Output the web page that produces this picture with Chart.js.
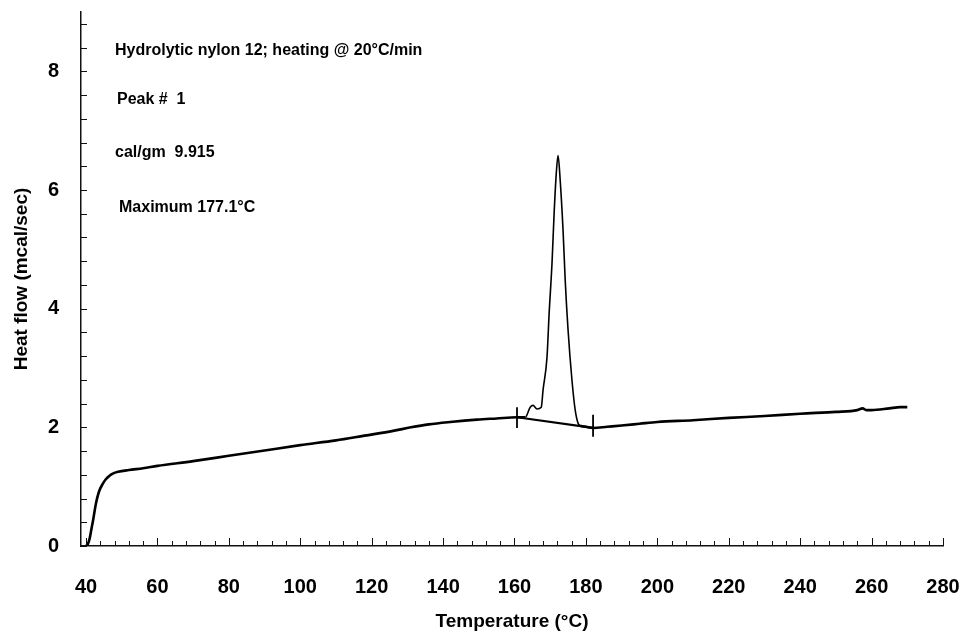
<!DOCTYPE html>
<html>
<head>
<meta charset="utf-8">
<script src="https://cdn.jsdelivr.net/npm/chart.js@4.4.0/dist/chart.umd.min.js"></script>
<style>
  body { margin: 0; background: #fff; }
  #wrap { width: 961px; height: 634px; }
</style>
</head>
<body>
<div id="wrap"><canvas id="dsc" width="961" height="634"></canvas></div>
<script>
// DSC trace
const temps = [40, 40.5, 41, 41.5, 42, 42.8, 43.6, 44.8, 45.5, 46.5, 47.5, 49, 52, 56, 60, 70, 80, 90, 100, 110, 118, 126, 131, 136, 142, 149.5, 155, 160.7,
  163, 164.4, 165.2, 166.3, 167.5, 168, 169.1, 169.7, 170.5, 171.1, 171.7, 172.2, 172.8, 173.6, 174.2, 175, 176.1, 177, 177.8, 178.4,
  180, 182, 186, 190, 195, 200, 210, 220, 230, 240, 250, 256, 257.5, 258.5, 260, 265, 268, 270];
const heatFlow = [0, 0.03, 0.12, 0.28, 0.44, 0.72, 0.91, 1.06, 1.12, 1.18, 1.22, 1.25, 1.28, 1.31, 1.35, 1.43, 1.52, 1.61, 1.70, 1.78, 1.86, 1.94, 2.00, 2.05, 2.09, 2.13, 2.15, 2.17,
  2.17, 2.34, 2.37, 2.31, 2.34, 2.63, 3.18, 3.92, 4.76, 5.61, 6.28, 6.58, 6.16, 5.32, 4.48, 3.64, 2.79, 2.29, 2.07, 2.03,
  2.01, 1.99, 2.01, 2.03, 2.06, 2.09, 2.12, 2.16, 2.19, 2.23, 2.26, 2.29, 2.32, 2.29, 2.29, 2.32, 2.34, 2.34];

// peak integration baseline and its end markers
const baseT = [160.7, 182];
const baseV = [2.17, 1.99];
const markLeftV = [1.99, 2.34];
const markRightV = [1.84, 2.21];

// axis ticks
const xTicks = [];
for (let t = 40; t <= 280; t += 4) xTicks.push(t);
const xLabels = [40, 60, 80, 100, 120, 140, 160, 180, 200, 220, 240, 260, 280];
const yTicks = [];
for (let k = 0; k <= 22; k++) yTicks.push(Math.round(k * 4) / 10);
const yLabels = [0, 2, 4, 6, 8];

const notes = ['Hydrolytic nylon 12; heating @ 20°C/min', 'Peak #  1', 'cal/gm  9.915', 'Maximum 177.1°C'];

const pts = (xs, ys) => xs.map((x, i) => ({ x: x, y: ys[i] }));
const peakFrom = 163, peakTo = 178.4;

// ticks pointing into the plot, like the original
const insideTicks = {
  id: 'insideTicks',
  afterDraw(chart) {
    const { ctx, scales: { x, y } } = chart;
    ctx.save();
    ctx.strokeStyle = '#111';
    ctx.lineWidth = 1;
    ctx.beginPath();
    x.ticks.forEach(t => {
      const px = Math.round(x.getPixelForValue(t.value)) + 0.5;
      const len = xLabels.includes(t.value) ? 8 : 5;
      ctx.moveTo(px, x.top);
      ctx.lineTo(px, x.top - len);
    });
    y.ticks.forEach(t => {
      const py = Math.round(y.getPixelForValue(t.value)) + 0.5;
      ctx.moveTo(y.right, py);
      ctx.lineTo(y.right + 6, py);
    });
    ctx.stroke();
    ctx.restore();
  }
};

const notesPlugin = {
  id: 'notes',
  afterDraw(chart) {
    const { ctx, chartArea } = chart;
    const offs = [[34, 39], [36, 88], [34, 141], [38, 196]];
    ctx.save();
    ctx.fillStyle = '#000';
    ctx.font = 'bold 16px "Liberation Sans", Arial, sans-serif';
    ctx.textBaseline = 'middle';
    notes.forEach((s, i) => ctx.fillText(s, chartArea.left + offs[i][0], chartArea.top + offs[i][1]));
    ctx.restore();
  }
};

const font = { family: '"Liberation Sans", Arial, sans-serif', weight: 'bold' };

new Chart(document.getElementById('dsc'), {
  type: 'line',
  data: {
    datasets: [
      {
        data: pts(temps, heatFlow),
        borderColor: '#000',
        borderWidth: 2.6,
        cubicInterpolationMode: 'monotone',
        pointRadius: 0,
        segment: {
          borderWidth: c => (c.p0.parsed.x >= peakFrom && c.p1.parsed.x <= peakTo) ? 1.6 : 2.6
        }
      },
      { data: pts(baseT, baseV), borderColor: '#000', borderWidth: 2.2, pointRadius: 0 },
      { data: pts([baseT[0], baseT[0]], markLeftV), borderColor: '#000', borderWidth: 1.8, pointRadius: 0 },
      { data: pts([baseT[1], baseT[1]], markRightV), borderColor: '#000', borderWidth: 1.8, pointRadius: 0 }
    ]
  },
  options: {
    responsive: false,
    animation: false,
    layout: { padding: { top: 12, right: 18, left: 0, bottom: 0 } },
    plugins: { legend: { display: false }, tooltip: { enabled: false } },
    scales: {
      x: {
        type: 'linear',
        min: 38.6,
        max: 280,
        afterBuildTicks: s => { s.ticks = xTicks.map(v => ({ value: v })); },
        afterFit: s => { s.height = 88; s.paddingLeft = 0; s.paddingRight = 0; },
        grid: { drawOnChartArea: false, drawTicks: false },
        border: { color: '#111', width: 1.5 },
        ticks: {
          autoSkip: false,
          maxRotation: 0,
          padding: 29,
          color: '#000',
          font: Object.assign({ size: 20 }, font),
          callback: v => xLabels.includes(v) ? String(v) : ''
        },
        title: {
          display: true,
          text: 'Temperature (°C)',
          color: '#000',
          font: Object.assign({ size: 19 }, font),
          padding: { top: 1, bottom: 1 }
        }
      },
      y: {
        min: 0,
        max: 9,
        afterBuildTicks: s => { s.ticks = yTicks.map(v => ({ value: v })); },
        afterFit: s => { s.width = 81; s.paddingTop = 0; s.paddingBottom = 0; },
        grid: { drawOnChartArea: false, drawTicks: false },
        border: { color: '#111', width: 1.5 },
        ticks: {
          autoSkip: false,
          padding: 22,
          color: '#000',
          font: Object.assign({ size: 20 }, font),
          callback: v => yLabels.includes(v) ? String(v) : ''
        },
        title: {
          display: true,
          text: 'Heat flow (mcal/sec)',
          color: '#000',
          font: Object.assign({ size: 19 }, font),
          padding: { top: 10, bottom: 4 }
        }
      }
    }
  },
  plugins: [insideTicks, notesPlugin]
});
</script>
</body>
</html>
